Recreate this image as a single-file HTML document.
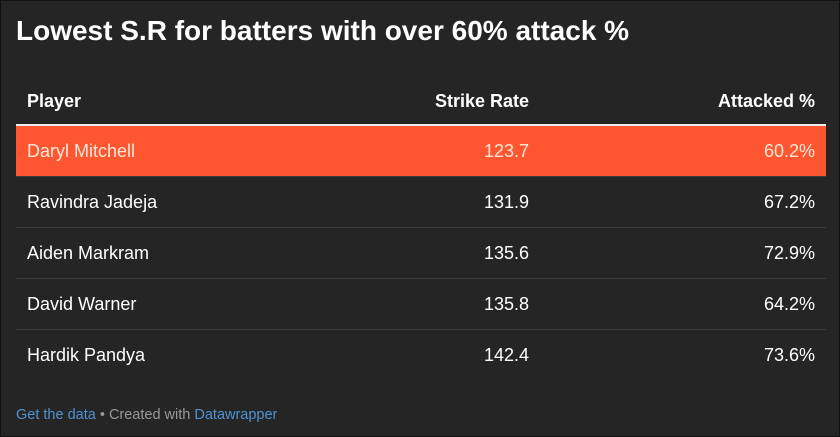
<!DOCTYPE html>
<html><head><style>
body{margin:0;width:840px;height:437px;background:#252525;font-family:"Liberation Sans",sans-serif;overflow:hidden}
.wrap{position:absolute;left:0;top:0;width:838px;height:435px;border:1px solid #111;background:#252525}
h1{position:absolute;left:15px;top:14px;margin:0;font-size:28px;font-weight:bold;color:#fff;letter-spacing:0px}
table{position:absolute;left:15px;top:78px;width:810px;border-collapse:collapse;color:#fff;font-size:18px}
th{font-weight:bold;height:45px;padding:0 11px;border-bottom:2px solid #eee;font-size:18px}
td{height:50px;padding:0 11px;border-bottom:1px solid #3c3c3c}
tr:last-child td{border-bottom:none}
.l{text-align:left}.r{text-align:right}
tr.hl td{background:#fe5631;color:#fde8d8}
.foot{position:absolute;left:15px;top:406px;font-size:14.5px;color:#999}
.foot span{color:#4f93d3}
</style></head><body><div class="wrap">
<h1>Lowest S.R for batters with over 60% attack %</h1>
<table>
<tr><th class="l" style="width:300px">Player</th><th class="r" style="width:180px">Strike Rate</th><th class="r">Attacked %</th></tr>
<tr class="hl"><td>Daryl Mitchell</td><td class="r">123.7</td><td class="r">60.2%</td></tr>
<tr><td>Ravindra Jadeja</td><td class="r">131.9</td><td class="r">67.2%</td></tr>
<tr><td>Aiden Markram</td><td class="r">135.6</td><td class="r">72.9%</td></tr>
<tr><td>David Warner</td><td class="r">135.8</td><td class="r">64.2%</td></tr>
<tr><td>Hardik Pandya</td><td class="r">142.4</td><td class="r">73.6%</td></tr>
</table>
<div class="foot"><span>Get the data</span> • Created with <span>Datawrapper</span></div>
</div></body></html>
